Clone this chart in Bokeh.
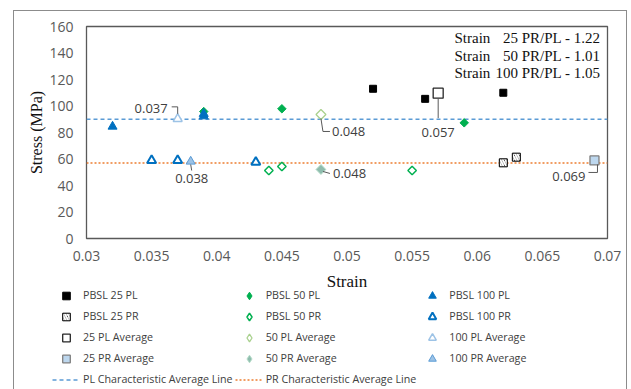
import numpy as np
from bokeh.plotting import figure
from bokeh.layouts import column
from bokeh.models import (Label, Legend, LegendItem, CustomJSTickFormatter,
                          FixedTicker, Range1d)
from bokeh.embed import file_html
from bokeh.resources import INLINE

# ---- axes -----------------------------------------------------------------
X_START, X_END = 0.03, 0.07
Y_START, Y_END = 0, 160
x_ticks = [0.03, 0.035, 0.04, 0.045, 0.05, 0.055, 0.06, 0.065, 0.07]
y_ticks = [0, 20, 40, 60, 80, 100, 120, 140, 160]

# ---- test results (strain, stress MPa) -------------------------------------
pbsl25_pl_x = [0.052, 0.056, 0.062]
pbsl25_pl_y = [113.0, 105.4, 110.0]
pbsl25_pr_x = [0.062, 0.063]
pbsl25_pr_y = [57.1, 61.4]

pbsl50_pl_x = [0.039, 0.045, 0.059]
pbsl50_pl_y = [95.8, 97.9, 87.3]
pbsl50_pr_x = [0.044, 0.045, 0.055]
pbsl50_pr_y = [51.3, 54.3, 51.3]

pbsl100_pl_x = [0.032, 0.039, 0.039]
pbsl100_pl_y = [84.5, 92.3, 94.1]
pbsl100_pr_x = [0.035, 0.037, 0.043]
pbsl100_pr_y = [58.9, 58.9, 57.6]

# averages
avg25_pl_x, avg25_pl_y = [0.057], [109.7]
avg25_pr_x, avg25_pr_y = [0.069], [58.9]
avg50_pl_x, avg50_pl_y = [0.048], [93.6]
avg50_pr_x, avg50_pr_y = [0.048], [52.1]
avg100_pl_x, avg100_pl_y = [0.037], [90.3]
avg100_pr_x, avg100_pr_y = [0.038], [58.1]

# characteristic average stress lines
pl_char_avg = 90.0
pr_char_avg = 57.0

# PR/PL strain ratios
ratio_groups = ["25", "50", "100"]
ratio_values = ["1.22", "1.01", "1.05"]

FRAME_W, FRAME_H = 521, 212
INNER_W = 72 + FRAME_W + 19
TXT = "#404040"
BORDER = "1px solid #8c8c8c"
DIAMOND = np.pi / 4

# ---- glyph styles (shared by chart and legend) ------------------------------
styles = {
    "PBSL 25 PL": dict(marker="square", size=7, fill_color="black", line_color="black"),
    "PBSL 50 PL": dict(marker="square", angle=DIAMOND, size=6,
                       fill_color="#00b050", line_color="#00b050"),
    "PBSL 100 PL": dict(marker="triangle", size=9, fill_color="#0070c0",
                        line_color="#0070c0"),
    "PBSL 25 PR": dict(marker="square", size=8, fill_color="black", line_color="black",
                       hatch_pattern="\\", hatch_color="white", hatch_weight=2,
                       hatch_scale=5),
    "PBSL 50 PR": dict(marker="square", angle=DIAMOND, size=6, fill_color="white",
                       line_color="#00b050", line_width=1.5),
    "PBSL 100 PR": dict(marker="triangle", size=9, fill_color="white",
                        line_color="#0070c0", line_width=2),
    "25 PL Average": dict(marker="square", size=10, fill_color="white",
                          line_color="#262626", line_width=1.3),
    "50 PL Average": dict(marker="square", angle=DIAMOND, size=7, fill_color="white",
                          line_color="#a9d18e", line_width=1.3),
    "100 PL Average": dict(marker="triangle", size=9, fill_color="white",
                           line_color="#9dc3e6", line_width=1.5),
    "25 PR Average": dict(marker="square", size=9, fill_color="#bdd7ee",
                          line_color="#7f7f7f", line_width=1.3),
    "50 PR Average": dict(marker="square", angle=DIAMOND, size=7, fill_color="#8fbcae",
                          line_color="#b4dcc8", line_width=1),
    "100 PR Average": dict(marker="triangle", size=9, fill_color="#9dc3e6",
                           line_color="#5b9bd5", line_width=1),
}
line_styles = {
    "PL Characteristic Average Line": dict(line_color="#5b9bd5", line_width=1.3,
                                           line_dash="4 3"),
    "PR Characteristic Average Line": dict(line_color="#ed7d31", line_width=1.3,
                                           line_dash="2 2"),
}

series = {
    "PBSL 25 PL": (pbsl25_pl_x, pbsl25_pl_y),
    "PBSL 50 PL": (pbsl50_pl_x, pbsl50_pl_y),
    "PBSL 100 PL": (pbsl100_pl_x, pbsl100_pl_y),
    "PBSL 25 PR": (pbsl25_pr_x, pbsl25_pr_y),
    "PBSL 50 PR": (pbsl50_pr_x, pbsl50_pr_y),
    "PBSL 100 PR": (pbsl100_pr_x, pbsl100_pr_y),
    "25 PL Average": (avg25_pl_x, avg25_pl_y),
    "50 PL Average": (avg50_pl_x, avg50_pl_y),
    "100 PL Average": (avg100_pl_x, avg100_pl_y),
    "25 PR Average": (avg25_pr_x, avg25_pr_y),
    "50 PR Average": (avg50_pr_x, avg50_pr_y),
    "100 PR Average": (avg100_pr_x, avg100_pr_y),
}
char_lines = {
    "PL Characteristic Average Line": pl_char_avg,
    "PR Characteristic Average Line": pr_char_avg,
}

# ---- main chart ---------------------------------------------------------------
p = figure(frame_width=FRAME_W, frame_height=FRAME_H,
           x_range=Range1d(X_START, X_END), y_range=Range1d(Y_START, Y_END),
           output_backend="svg", toolbar_location=None,
           min_border_left=72, min_border_right=19,
           min_border_top=15, min_border_bottom=34,
           background_fill_color="white", border_fill_color="white")

p.xgrid.visible = False
p.ygrid.visible = False
p.outline_line_color = "#595959"
p.outline_line_width = 1.3

for ax in (p.xaxis[0], p.yaxis[0]):
    ax.axis_line_color = None
    ax.major_tick_line_color = None
    ax.minor_tick_line_color = None
    ax.major_tick_out = 0
    ax.major_tick_in = 0
    ax.major_label_text_font = "Open Sans"
    ax.major_label_text_font_size = "14px"
    ax.major_label_text_color = "#595959"
    ax.axis_label_text_font = "Liberation Serif"
    ax.axis_label_text_font_size = "16px"
    ax.axis_label_text_font_style = "normal"
    ax.axis_label_text_color = "#111111"

p.xaxis.ticker = FixedTicker(ticks=x_ticks)
p.yaxis.ticker = FixedTicker(ticks=y_ticks)
p.xaxis.formatter = CustomJSTickFormatter(code="return String(Number(tick.toFixed(3)));")
p.yaxis.axis_label = "Stress (MPa)"
p.xaxis.major_label_standoff = 12
p.yaxis.major_label_standoff = 13
p.yaxis.axis_label_standoff = 1

for name, level in char_lines.items():
    p.line([X_START, X_END], [level, level], **line_styles[name])

for name, (xs, ys) in series.items():
    p.scatter(xs, ys, **styles[name])

# ---- average strain callouts --------------------------------------------------
DX = (X_END - X_START) / FRAME_W   # data units per pixel
DY = (Y_END - Y_START) / FRAME_H

# (x, y, text offset px, text align, leader path in px relative to point)
callouts = [
    (avg100_pl_x[0], avg100_pl_y[0], (-10, 10), "right",
     [(-6, 12), (0, 12), (0, 5)]),
    (avg100_pr_x[0], avg100_pr_y[0], (1, -17), "center",
     [(0, -3), (1, -9)]),
    (avg50_pl_x[0], avg50_pl_y[0], (11, -17), "left",
     [(0, -4), (2, -17), (9, -17)]),
    (avg50_pr_x[0], avg50_pr_y[0], (12, -4), "left",
     [(2, -2), (9, -4)]),
    (avg25_pl_x[0], avg25_pl_y[0], (0, -39), "center",
     [(0, -5), (0, -25)]),
    (avg25_pr_x[0], avg25_pr_y[0], (-9, -16), "right",
     [(3, -4), (3, -12), (-6, -12)]),
]

lead_xs, lead_ys = [], []
for x, y, (ox, oy), align, path in callouts:
    lead_xs.append([x + px * DX for px, _ in path])
    lead_ys.append([y + py * DY for _, py in path])
    p.add_layout(Label(x=x, y=y, x_offset=ox, y_offset=oy, text=f"{x:.3f}",
                       text_align=align, text_baseline="middle",
                       text_font="Open Sans", text_font_size="13px",
                       text_color=TXT))
p.multi_line(lead_xs, lead_ys, line_color="#595959", line_width=1)

# ---- PR/PL ratio box ----------------------------------------------------------
for i, (grp, val) in enumerate(zip(ratio_groups, ratio_values)):
    cy = 26.5 + i * 17.5
    p.add_layout(Label(x=440, y=cy, x_units="canvas", y_units="canvas",
                       text="Strain", text_align="left", text_baseline="middle",
                       text_font="Liberation Serif", text_font_size="15px",
                       text_color="#111111"))
    p.add_layout(Label(x=586, y=cy, x_units="canvas", y_units="canvas",
                       text=f"{grp} PR/PL - {val}", text_align="right",
                       text_baseline="middle",
                       text_font="Liberation Serif", text_font_size="15px",
                       text_color="#111111"))

# ---- x-axis title and legend strip ------------------------------------------------
# the strip's ranges sit away from the data, so its glyphs only feed the legend
LEG_H = 117
leg = figure(frame_width=INNER_W, frame_height=LEG_H, min_border=0,
             x_range=Range1d(10, 11), y_range=Range1d(10, 11),
             x_axis_location=None, y_axis_location=None,
             output_backend="svg", toolbar_location=None,
             outline_line_color=None, background_fill_color="white",
             border_fill_color="white")
leg.xgrid.visible = False
leg.ygrid.visible = False

leg.add_layout(Label(x=72 + FRAME_W / 2, y=9, x_units="canvas", y_units="canvas",
                     text="Strain", text_align="center", text_baseline="middle",
                     text_font="Liberation Serif", text_font_size="17px",
                     text_color="#111111"))

proxy = {}
for name, st in styles.items():
    xs, ys = series[name]
    st = dict(st)
    if "angle" in st:          # legend icons ignore rotation: use a diamond marker
        st.pop("angle")
        st["marker"] = "diamond"
        st["size"] = st["size"] + 4
    proxy[name] = leg.scatter(xs, ys, **st)
for name, st in line_styles.items():
    level = char_lines[name]
    proxy[name] = leg.line([X_START, X_END], [level, level], **st)

order = ["PBSL 25 PL", "PBSL 50 PL", "PBSL 100 PL",
         "PBSL 25 PR", "PBSL 50 PR", "PBSL 100 PR",
         "25 PL Average", "50 PL Average", "100 PL Average",
         "25 PR Average", "50 PR Average", "100 PR Average",
         "PL Characteristic Average Line", "PR Characteristic Average Line"]
legend = Legend(items=[LegendItem(label=n, renderers=[proxy[n]]) for n in order],
                orientation="horizontal", ncols=3,
                location=(38, 0.5), glyph_width=28, glyph_height=19,
                label_height=19, label_standoff=3, spacing=2, padding=0,
                margin=0, border_line_color=None, background_fill_alpha=0,
                label_text_font="Open Sans", label_text_font_size="10.7px",
                label_text_color=TXT)
leg.add_layout(legend)

page = column(p, leg, spacing=0, margin=(10, 4, 0, 13),
              styles={"border-left": BORDER, "border-top": BORDER,
                      "border-right": BORDER})

open("out.html", "w").write(file_html(page, INLINE))
